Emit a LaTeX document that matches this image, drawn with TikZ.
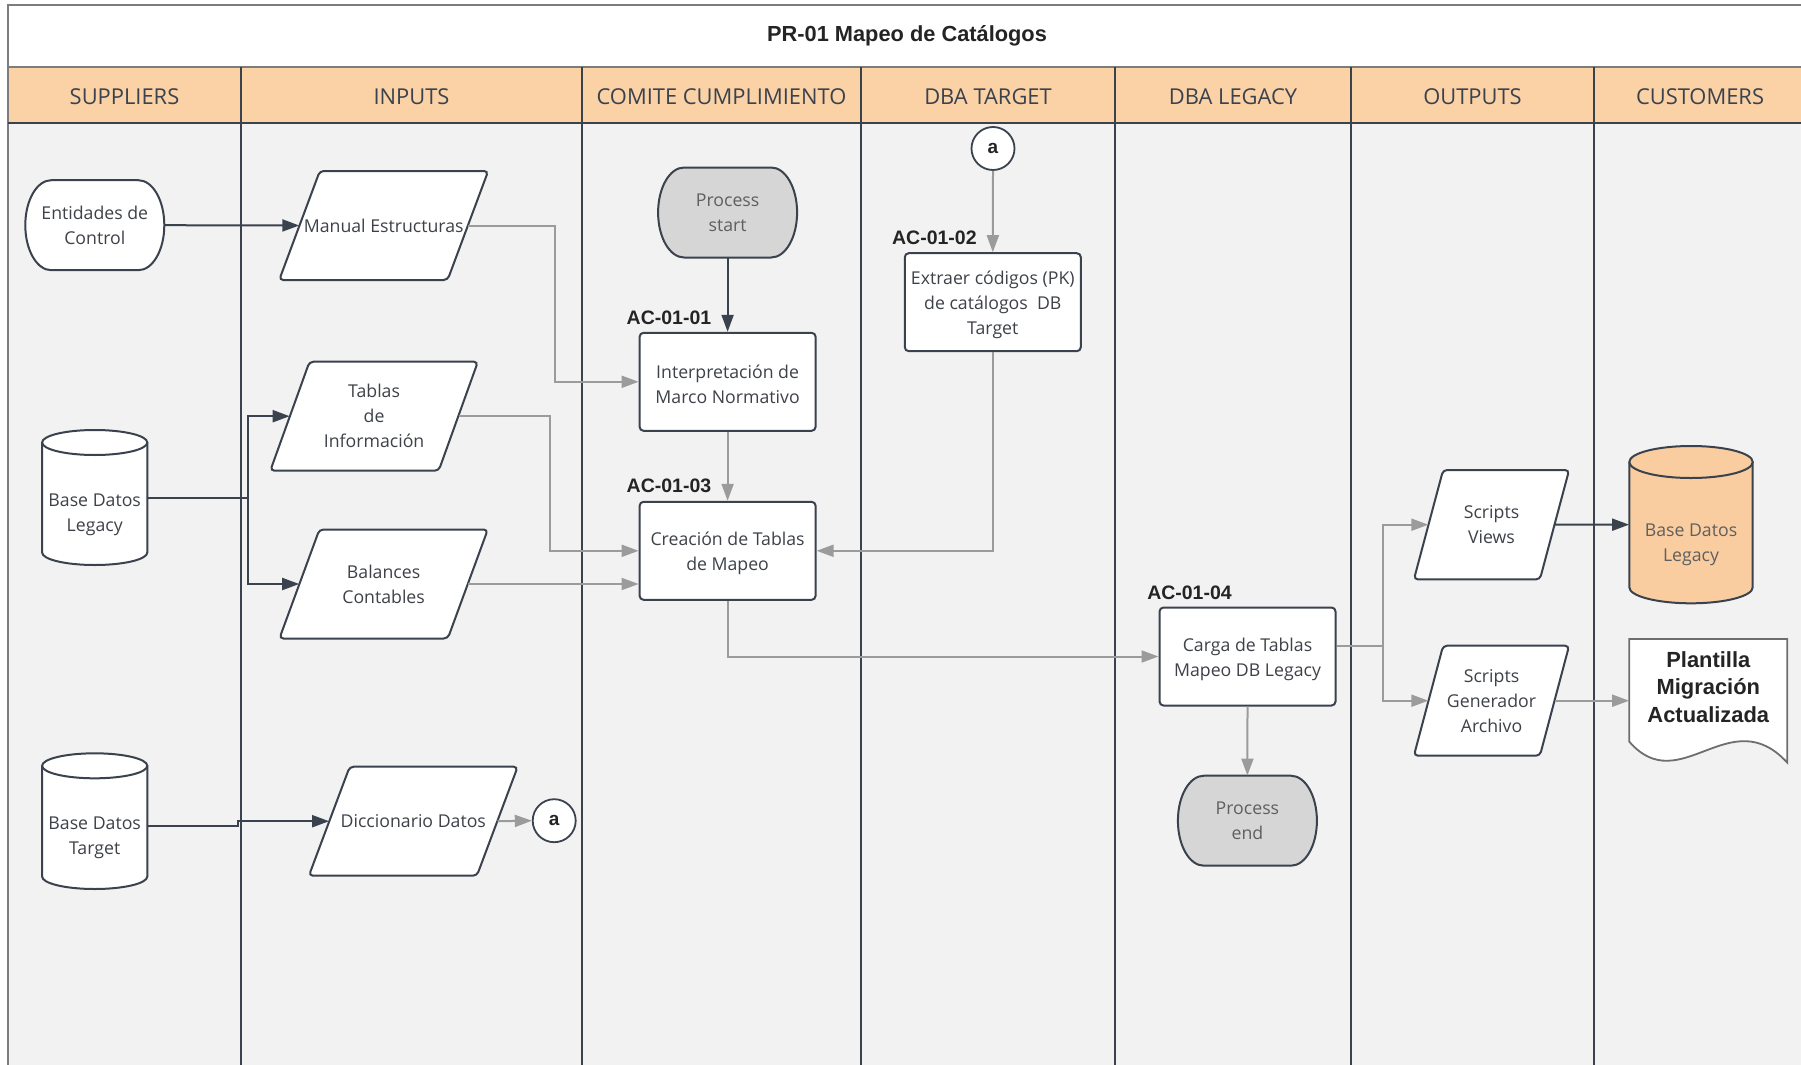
\documentclass[tikz,border=0pt]{standalone}
\usepackage{fontspec}
\setmainfont{Open Sans}
\newfontfamily\lsans{Liberation Sans}
\usetikzlibrary{arrows.meta,calc}
\definecolor{bgc}{RGB}{242,242,242}
\definecolor{hdr}{RGB}{251,209,166}
\definecolor{dk}{RGB}{58,66,78}
\definecolor{gl}{RGB}{155,155,155}
\definecolor{txt}{RGB}{62,66,72}
\definecolor{ptxt}{RGB}{95,95,95}
\definecolor{procfill}{RGB}{214,214,214}
\definecolor{orng}{RGB}{250,205,160}
\definecolor{brd}{RGB}{125,125,125}
\definecolor{docgray}{RGB}{110,110,110}
\definecolor{ttxt}{RGB}{36,36,36}

\tikzset{
  body/.style={font=\fontsize{17.7}{25}\selectfont, text=txt, align=center},
  abox/.style={draw=dk, line width=2pt, fill=white, rounded corners=4pt,
    minimum width=176pt, minimum height=98pt, inner sep=0pt},
  lbl/.style={font=\lsans\bfseries\fontsize{19.5}{22}\selectfont, text=ttxt, inner sep=0pt},
  hdrtxt/.style={font=\fontsize{21.9}{24}\selectfont, text=dk, anchor=base, inner sep=0pt},
  conn/.style={circle, draw=dk, line width=1.8pt, fill=white, minimum size=43pt, inner sep=0pt,
    font=\lsans\bfseries\fontsize{19}{19}\selectfont, text=ttxt},
  dkc/.style={draw=dk, line width=2pt},
  dka/.style={dkc, -{Triangle[length=17pt,width=12pt]}},
  gyc/.style={draw=gl, line width=2pt},
  gya/.style={gyc, -{Triangle[length=17pt,width=12pt]}},
}

% terminal: name, cx, cy, fill, text colour, text
\newcommand\termnode[6]{%
  \path[draw=dk, line width=2pt, fill=#4]
    ({#2-43.5},{#3-45}) -- ({#2+43.5},{#3-45})
    .. controls ({#2+57.9},{#3-45}) and ({#2+69.5},{#3-24.9}) .. ({#2+69.5},{#3})
    .. controls ({#2+69.5},{#3+24.9}) and ({#2+57.9},{#3+45}) .. ({#2+43.5},{#3+45})
    -- ({#2-43.5},{#3+45})
    .. controls ({#2-57.9},{#3+45}) and ({#2-69.5},{#3+24.9}) .. ({#2-69.5},{#3})
    .. controls ({#2-69.5},{#3-24.9}) and ({#2-57.9},{#3-45}) .. cycle;
  \node[body, text=#5, minimum width=139pt, minimum height=90pt, inner sep=0pt] (#1) at (#2,#3) {#6};
}

% parallelogram: name, cx, cy, half edge, half slant, half height, text
\newcommand\paranode[7]{%
  \path[draw=dk, line width=2pt, fill=white, rounded corners=4pt]
    ({#2-#4-#5},{#3+#6}) -- ({#2-#4+#5},{#3-#6}) -- ({#2+#4+#5},{#3-#6})
    -- ({#2+#4-#5},{#3+#6}) -- cycle;
  \node[body, minimum width={2*#4*1pt}, minimum height={2*#6*1pt}, inner sep=0pt] (#1) at (#2,#3) {#7};
}

% cylinder: name, cx, top, bottom, rx, ry, fill, text colour, text
\newcommand\cylnode[9]{%
  \pgfmathsetmacro\myCyT{#3+#6}%
  \pgfmathsetmacro\myCyB{#4-#6}%
  \pgfmathsetmacro\myCyK{0.5523*#6}%
  \pgfmathsetmacro\myCxK{0.5523*#5}%
  \path[draw=dk, line width=2pt, fill=#7]
    ({#2-#5},\myCyT) -- ({#2-#5},\myCyB)
    .. controls ({#2-#5},{\myCyB+\myCyK}) and ({#2-\myCxK},{\myCyB+#6}) .. (#2,{\myCyB+#6})
    .. controls ({#2+\myCxK},{\myCyB+#6}) and ({#2+#5},{\myCyB+\myCyK}) .. ({#2+#5},\myCyB)
    -- ({#2+#5},\myCyT);
  \path[draw=dk, line width=2pt, fill=#7] (#2,\myCyT) ellipse [x radius=#5, y radius=#6];
  \node[minimum width={2*#5*1pt}, minimum height={(#4-#3)*1pt}, inner sep=0pt] (#1) at (#2,{(#3+#4)/2}) {};
  \node[body, text=#8] (#1t) at (#2,{(#3+#4)/2+#6+4.5}) {#9};
}

\begin{document}
\begin{tikzpicture}[x=1pt,y=-1pt]
\useasboundingbox (0,0) rectangle (1801,1065);
% background
\fill[white] (0,0) rectangle (1801,1065);
\fill[bgc] (8,123) rectangle (1801,1065);
\fill[hdr] (8,67) rectangle (1801,123);
\draw[brd, line width=2pt] (8,1065) -- (8,5) -- (1801,5);
\draw[brd, line width=2pt] (8,67) -- (1801,67);
\draw[dk, line width=2pt] (8,123) -- (1801,123);
\foreach \xx in {241,582,861,1115,1351,1594}
  \draw[dk, line width=2pt] (\xx,67) -- (\xx,1065);

\node[font=\lsans\bfseries\fontsize{21.8}{26}\selectfont, text=ttxt] (title) at (907,35.5) {PR-01 Mapeo de Catálogos};

\node[hdrtxt] (h1) at (124.5,104) {SUPPLIERS};
\node[hdrtxt] (h2) at (411.5,104) {INPUTS};
\node[hdrtxt] (h3) at (721.5,104) {COMITE CUMPLIMIENTO};
\node[hdrtxt] (h4) at (988,104) {DBA TARGET};
\node[hdrtxt] (h5) at (1233,104) {DBA LEGACY};
\node[hdrtxt] (h6) at (1472.5,104) {OUTPUTS};
\node[hdrtxt] (h7) at (1700,104) {CUSTOMERS};

% terminals
\termnode{ent}{94.8}{225.2}{white}{txt}{Entidades de\\Control}
\termnode{pst}{727.6}{212.5}{procfill}{ptxt}{Process\\start}
\termnode{pend}{1247.4}{820.7}{procfill}{ptxt}{Process\\end}

% parallelograms
\paranode{man}{383.7}{225.5}{84.2}{20.3}{54.5}{Manual Estructuras}
\paranode{tab}{374.1}{416.2}{84.2}{19.6}{54.5}{Tablas\\de\\Información}
\paranode{bal}{383.6}{584}{84.2}{20}{54.5}{Balances\\Contables}
\paranode{dic}{413.3}{821.2}{84}{20.4}{54.5}{Diccionario Datos}
\paranode{sv}{1491.5}{524.7}{63}{14.6}{54.7}{Scripts\\Views}
\paranode{sg}{1491.5}{700.7}{63}{14.6}{55}{Scripts\\Generador\\Archivo}

% cylinders
\cylnode{bdl}{94.7}{430}{565}{52.6}{12.5}{white}{txt}{Base Datos\\Legacy}
\cylnode{bdt}{94.7}{753.3}{889}{52.6}{12.5}{white}{txt}{Base Datos\\Target}
\cylnode{bdc}{1691}{446}{603.3}{61.7}{16}{orng}{ptxt}{Base Datos\\Legacy}

% document
\path[draw=docgray, line width=1.8pt, fill=white]
  (1629.3,639) -- (1787.3,639) -- (1787.3,762.7)
  .. controls (1730,700) and (1680,800) .. (1629.3,741.7) -- cycle;
\node[minimum width=158pt, minimum height=103pt, inner sep=0pt] (pla) at (1708.3,690) {};
\node[font=\lsans\bfseries\fontsize{21.9}{27.5}\selectfont, text=ttxt, align=center] (plat) at (1708.3,687) {Plantilla\\Migración\\Actualizada};

% process boxes
\node[abox] (int) at (727.6,381.8) {};
\node[body, yshift=-2.5pt] (intt) at (int.center) {Interpretación de\\Marco Normativo};
\node[abox] (cre) at (727.6,550.8) {};
\node[body, yshift=-3pt] (cret) at (cre.center) {Creación de Tablas\\de Mapeo};
\node[abox] (ext) at (992.8,302.2) {};
\node[body, yshift=-2.5pt] (extt) at (ext.center) {Extraer códigos (PK)\\de catálogos~~DB\\Target};
\node[abox] (car) at (1247.5,656.5) {};
\node[body, yshift=-2.5pt] (cart) at (car.center) {Carga de Tablas\\Mapeo DB Legacy};

% labels
\node[lbl] (l1) at (669,317.5) {AC-01-01};
\node[lbl] (l3) at (669,486) {AC-01-03};
\node[lbl] (l2) at (934.4,237.7) {AC-01-02};
\node[lbl] (l4) at (1189.5,592.3) {AC-01-04};

% off-page connectors
\node[conn] (ca1) at (554.2,820.7) {a};
\node[conn] (ca2) at (993,148.5) {a};

% junctions
\coordinate (j1) at (555,381.8);
\coordinate (j2) at (549.5,550.8);
\coordinate (j3) at (248,497.5);
\coordinate (j4) at (1382.5,646);
\coordinate (j5) at (238,821.2);

% connectors
\draw[dka] (ent.east) -- (man.west);
\draw[gya] (man.east) -| (j1) -- (int.west);
\draw[dkc] (bdl.east) -- (j3);
\draw[dka] (j3) |- (tab.west);
\draw[dka] (j3) |- (bal.west);
\draw[gya] (tab.east) -| (j2) -- (cre.west);
\draw[gya] (bal.east) -- (cre.west |- bal.east);
\draw[dka] (pst.south) -- (int.north);
\draw[gya] (int.south) -- (cre.north);
\draw[gya] (ca2.south) -- (ext.north);
\draw[gya] (ext.south) |- (cre.east);
\draw[gya] (cre.south) |- (car.west);
\draw[gya] (car.south) -- (pend.north);
\draw[gyc] ([yshift=10.5pt]car.east) -- (j4);
\draw[gya] (j4) |- (sv.west);
\draw[gya] (j4) |- (sg.west);
\draw[dka] (sv.east) -- (bdc.west);
\draw[gya] (sg.east) -- (pla.west |- sg.east);
\draw[dka] ([yshift=-4.5pt]bdt.east) -| (j5) -- (dic.west);
\draw[gya] (dic.east) -- (ca1.west);
\end{tikzpicture}
\end{document}
